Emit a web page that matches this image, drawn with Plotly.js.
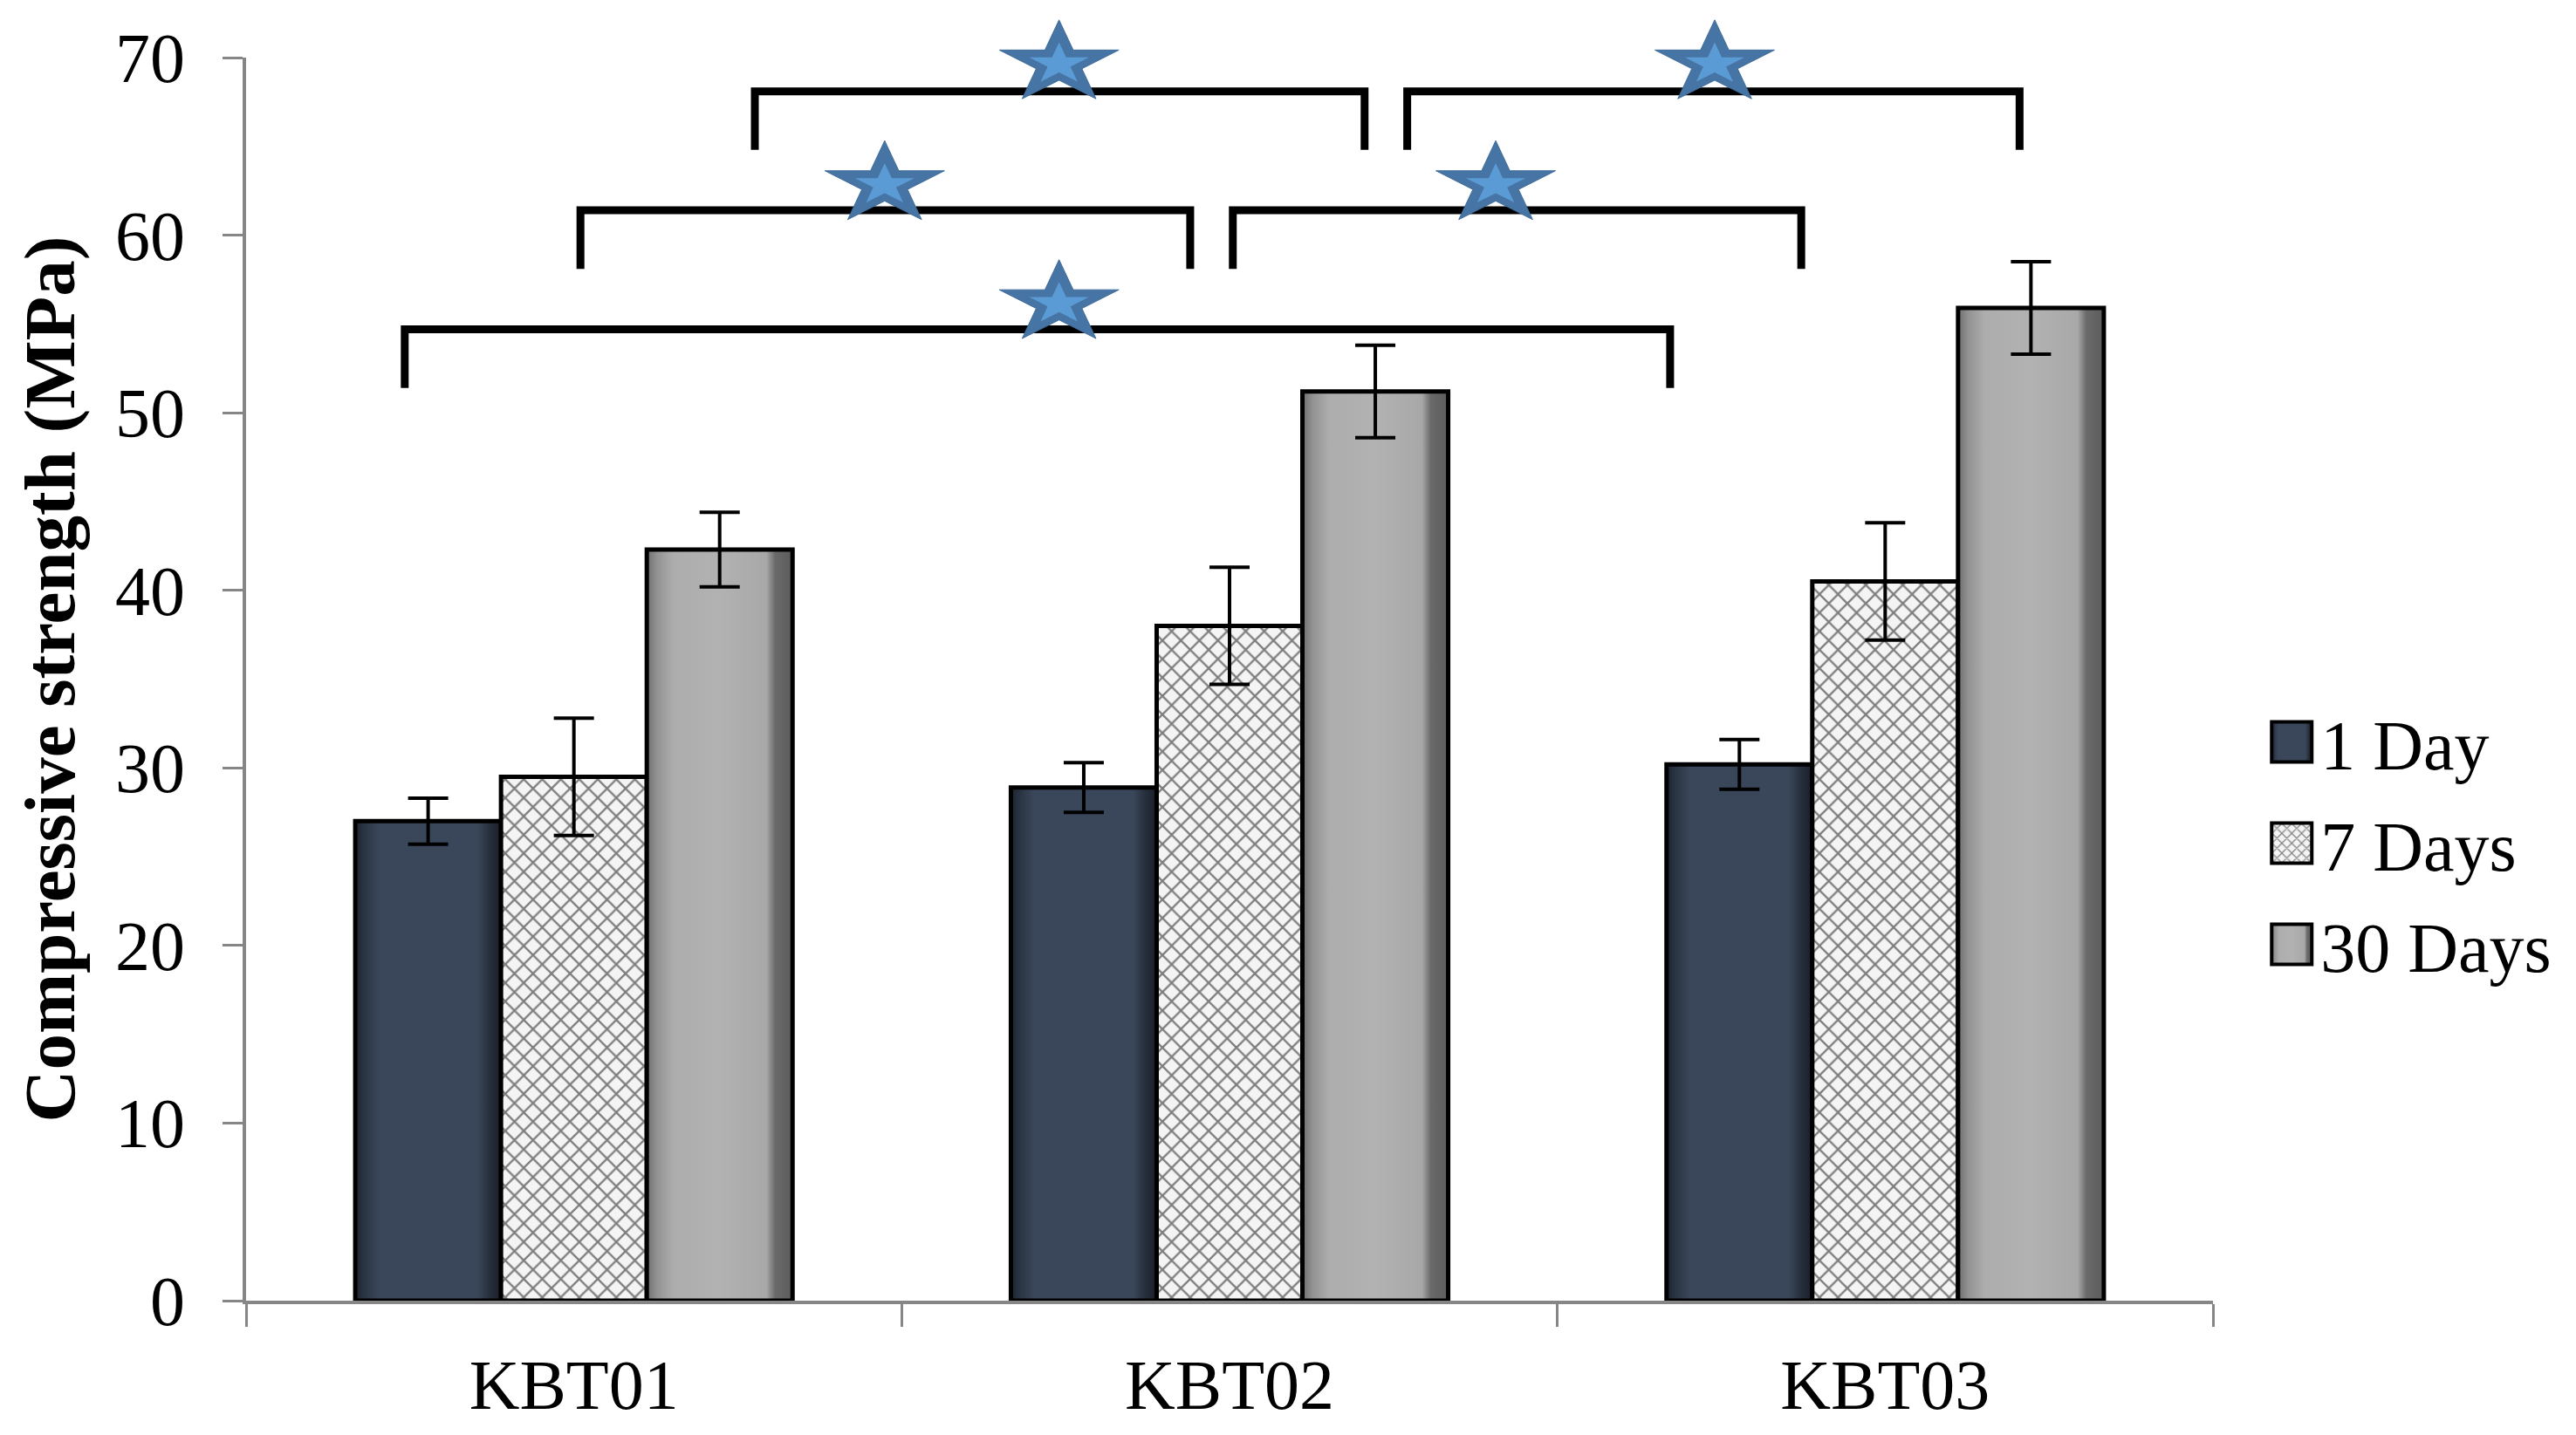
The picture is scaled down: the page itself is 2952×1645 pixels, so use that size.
<!DOCTYPE html>
<html>
<head>
<meta charset="utf-8">
<script src="https://cdn.plot.ly/plotly-3.0.1.min.js"></script>
<style>
  html, body { margin: 0; padding: 0; background: #ffffff; }
  #chart { width: 2952px; height: 1645px; }
</style>
</head>
<body>
<div id="chart"></div>
<script>
// ---------- data ----------
var categories = ['KBT01', 'KBT02', 'KBT03'];
var seriesNames = ['1 Day', '7 Days', '30 Days'];
var day1 = [27.0, 28.9, 30.2];
var day1Err = [1.3, 1.4, 1.4];
var day7 = [29.5, 38.0, 40.5];
var day7Err = [3.3, 3.3, 3.3];
var day30 = [42.3, 51.2, 55.9];
var day30Err = [2.1, 2.6, 2.6];
var yTickVals = [0, 10, 20, 30, 40, 50, 60, 70];

// significance brackets (data coordinates on category axis)
var bracketLeft = [-0.258, 0.010, 1.005, 0.276, 1.271];
var bracketRight = [1.672, 0.940, 1.872, 1.206, 2.205];
var bracketTop = [54.7, 61.4, 61.4, 68.1, 68.1];
var bracketLegEnd = [51.4, 58.1, 58.1, 64.8, 64.8];
var starX = [0.740, 0.474, 1.406, 0.740, 1.740];
var starY = [56.4, 63.1, 63.1, 69.9, 69.9];

// ---------- styles ----------
var FONT = 'Liberation Serif, Times New Roman, serif';
var AXIS_GREY = '#868686';
var X_RANGE = [-0.5, 2.5];
var Y_RANGE = [0, 70];

function errBar(arr) {
  return { type: 'data', array: arr, visible: true, color: '#000000', thickness: 4, width: 23 };
}

var data = [
  {
    type: 'bar', name: seriesNames[0], x: categories, y: day1,
    error_y: errBar(day1Err),
    marker: { color: '#3a4659', line: { color: '#000000', width: 5 } },
    legendgroup: 'a'
  },
  {
    type: 'bar', name: seriesNames[1], x: categories, y: day7,
    error_y: errBar(day7Err),
    marker: {
      color: '#f4f4f4',
      line: { color: '#000000', width: 5 },
      pattern: { shape: 'x', fgcolor: '#7e7e7e', bgcolor: '#f4f4f4', size: 15, solidity: 0.28, fillmode: 'replace' }
    },
    legendgroup: 'b'
  },
  {
    type: 'bar', name: seriesNames[2], x: categories, y: day30,
    error_y: errBar(day30Err),
    marker: { color: '#acacac', line: { color: '#000000', width: 5 } },
    legendgroup: 'c'
  }
];

function starPath(rx, ry) {
  var pts = [];
  for (var k = 0; k < 10; k++) {
    var a = Math.PI / 2 + k * Math.PI / 5;
    var rr = (k % 2 === 0) ? 1 : 0.382;
    pts.push([rx * rr * Math.cos(a), ry * rr * Math.sin(a) - 0.0955 * ry]);
  }
  return 'M' + pts.map(function (p) { return p[0].toFixed(1) + ',' + p[1].toFixed(1); }).join('L') + 'Z';
}
// convert data value to axis-domain fraction (so stars are not clipped at the top of the plot)
function xDom(v) { return (v - X_RANGE[0]) / (X_RANGE[1] - X_RANGE[0]); }
function yDom(v) { return (v - Y_RANGE[0]) / (Y_RANGE[1] - Y_RANGE[0]); }

var shapes = [];
for (var i = 0; i < bracketLeft.length; i++) {
  shapes.push({
    type: 'path', xref: 'x', yref: 'y', layer: 'above',
    path: 'M' + bracketLeft[i] + ',' + bracketLegEnd[i] +
          ' L' + bracketLeft[i] + ',' + bracketTop[i] +
          ' L' + bracketRight[i] + ',' + bracketTop[i] +
          ' L' + bracketRight[i] + ',' + bracketLegEnd[i],
    line: { color: '#000000', width: 9 }
  });
}
var outerStar = starPath(72, 50);
var innerStar = starPath(36, 25);
for (var j = 0; j < starX.length; j++) {
  shapes.push({
    type: 'path', xref: 'x domain', yref: 'y domain', layer: 'above',
    xsizemode: 'pixel', ysizemode: 'pixel', xanchor: xDom(starX[j]), yanchor: yDom(starY[j]),
    path: outerStar, fillcolor: '#4674a5', line: { color: '#3f6c9a', width: 1 }
  });
  shapes.push({
    type: 'path', xref: 'x domain', yref: 'y domain', layer: 'above',
    xsizemode: 'pixel', ysizemode: 'pixel', xanchor: xDom(starX[j]), yanchor: yDom(starY[j] - 0.15),
    path: innerStar, fillcolor: '#5b9bd5', line: { width: 0 }
  });
}

var layout = {
  width: 2952, height: 1645,
  margin: { l: 282, r: 416, t: 66, b: 154, pad: 0 },
  paper_bgcolor: '#ffffff', plot_bgcolor: '#ffffff',
  font: { family: FONT, color: '#000000', size: 80 },
  barmode: 'group', bargap: 0.333, bargroupgap: 0,
  showlegend: true,
  legend: {
    x: 1.0254, xanchor: 'left', y: 0.368, yanchor: 'middle',
    font: { family: FONT, size: 80, color: '#000000' },
    itemwidth: 56, traceorder: 'grouped', tracegroupgap: 9,
    bgcolor: 'rgba(0,0,0,0)', borderwidth: 0
  },
  xaxis: {
    type: 'category', range: X_RANGE, fixedrange: true,
    showline: true, linecolor: AXIS_GREY, linewidth: 4,
    ticks: 'outside', tickson: 'boundaries', ticklen: 26, tickwidth: 3, tickcolor: AXIS_GREY,
    tickfont: { family: FONT, size: 80, color: '#000000' },
    ticklabelstandoff: 24,
    showgrid: false, zeroline: false
  },
  yaxis: {
    range: Y_RANGE, tickvals: yTickVals, fixedrange: true,
    showline: true, linecolor: AXIS_GREY, linewidth: 4,
    ticks: 'outside', ticklen: 23, tickwidth: 3, tickcolor: AXIS_GREY,
    tickfont: { family: FONT, size: 80, color: '#000000' },
    ticklabelstandoff: 27,
    showgrid: false, zeroline: false,
    title: { text: 'Compressive strength (MPa)', font: { family: FONT, size: 83, weight: 'bold', color: '#000000' }, standoff: 20 }
  },
  shapes: shapes
};

Plotly.newPlot('chart', data, layout, { staticPlot: true, displayModeBar: false }).then(function (gd) {
  var NS = 'http://www.w3.org/2000/svg';
  var svg = gd.querySelector('.main-svg');
  var defs = svg.querySelector('defs');
  if (!defs) { defs = document.createElementNS(NS, 'defs'); svg.insertBefore(defs, svg.firstChild); }
  function addGrad(id, stops) {
    var g = document.createElementNS(NS, 'linearGradient');
    g.setAttribute('id', id);
    g.setAttribute('x1', '0'); g.setAttribute('y1', '0'); g.setAttribute('x2', '1'); g.setAttribute('y2', '0');
    stops.forEach(function (s) {
      var st = document.createElementNS(NS, 'stop');
      st.setAttribute('offset', s[0]);
      st.setAttribute('stop-color', s[1]);
      g.appendChild(st);
    });
    defs.appendChild(g);
  }
  addGrad('gradDay1', [[0, '#1d242f'], [0.07, '#2c3645'], [0.16, '#3a4659'], [0.84, '#3a4659'], [0.92, '#262f3c'], [1, '#1a2029']]);
  addGrad('gradDay30', [[0, '#6f6f6f'], [0.07, '#929292'], [0.18, '#adadad'], [0.5, '#b2b2b2'], [0.82, '#a8a8a8'], [0.88, '#6a6a6a'], [1, '#5c5c5c']]);
  var traces = gd.querySelectorAll('.barlayer .trace');
  if (traces[0]) traces[0].querySelectorAll('.point path').forEach(function (p) { p.style.fill = 'url(#gradDay1)'; });
  if (traces[2]) traces[2].querySelectorAll('.point path').forEach(function (p) { p.style.fill = 'url(#gradDay30)'; });
  var legendItems = gd.querySelectorAll('.legend .traces');
  legendItems.forEach(function (item, idx) {
    item.querySelectorAll('.legendpoints path').forEach(function (p) {
      p.setAttribute('d', 'M23,23H-23V-23H23Z');
      p.style.strokeWidth = '4px';
      p.style.stroke = '#000000';
      if (idx === 0) p.style.fill = 'url(#gradDay1)';
      if (idx === 2) p.style.fill = 'url(#gradDay30)';
    });
  });
});
</script>
</body>
</html>
